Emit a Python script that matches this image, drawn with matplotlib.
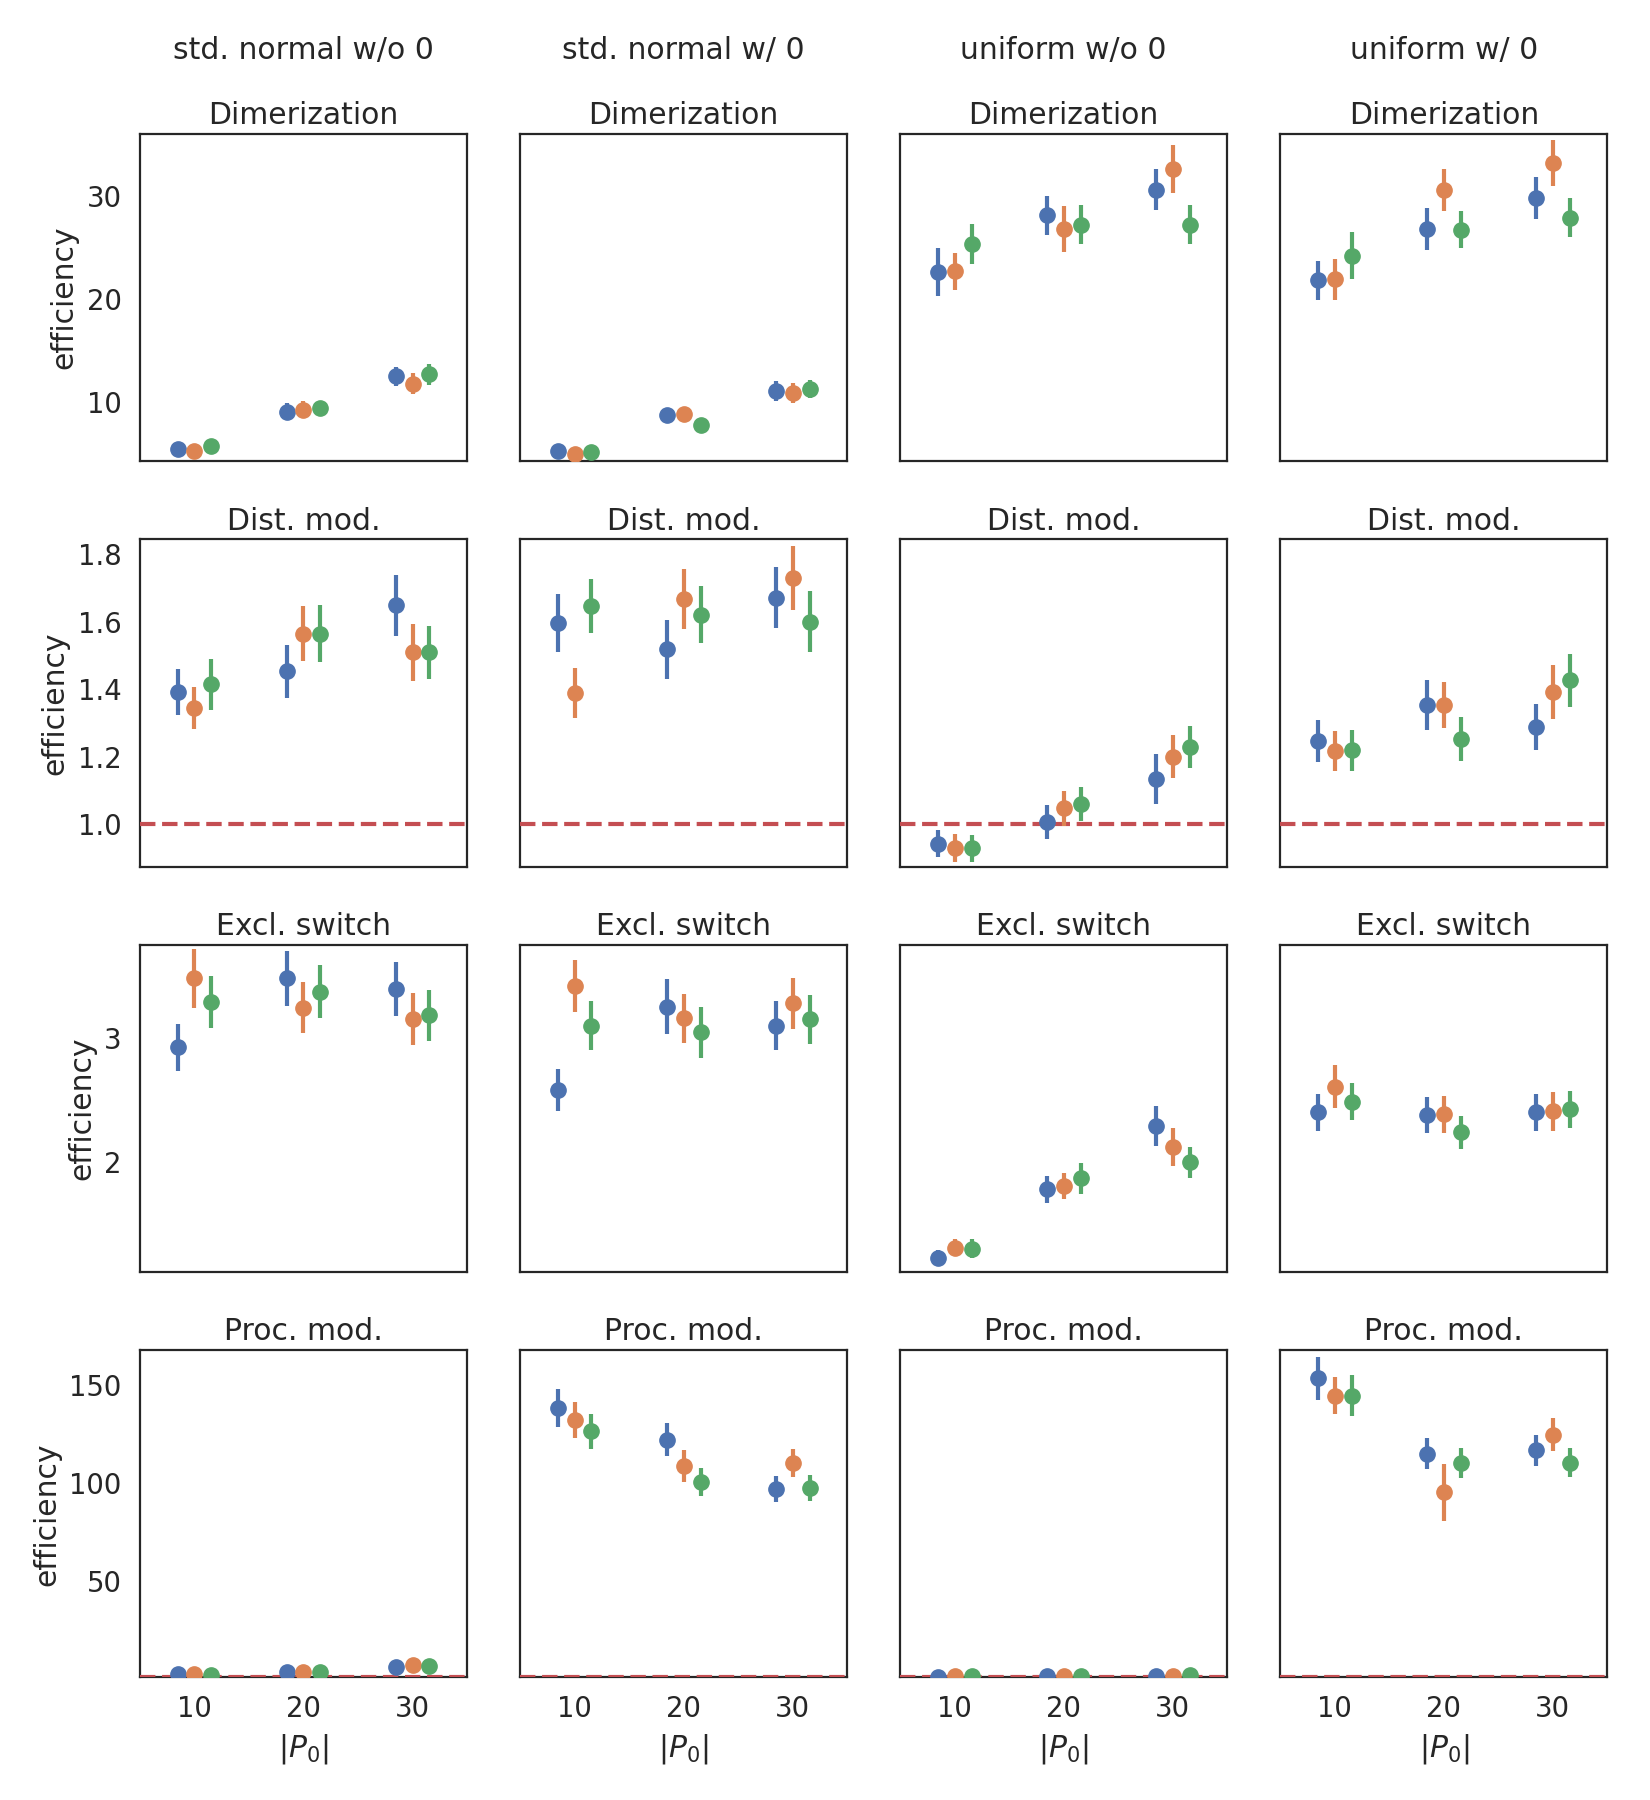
import matplotlib

matplotlib.use("Agg")
import matplotlib.pyplot as plt
import numpy as np

# Column (distribution) and row (experiment) labels
columns = ["std. normal w/o 0", "std. normal w/ 0", "uniform w/o 0", "uniform w/ 0"]
rows = ["Dimerization", "Dist. mod.", "Excl. switch", "Proc. mod."]
p0_levels = ["10", "20", "30"]
hue_colors = ["#4C72B0", "#DD8452", "#55A868"]

# Mean efficiency, indexed [column][hue][p0]
dimer_mean = [
    [[5.5, 9.1, 12.5], [5.3, 9.3, 11.8], [5.8, 9.4, 12.7]],
    [[5.3, 8.8, 11.1], [5.0, 8.9, 10.9], [5.2, 7.8, 11.3]],
    [[22.6, 28.1, 30.6], [22.7, 26.8, 32.6], [25.3, 27.2, 27.2]],
    [[21.8, 26.8, 29.8], [21.9, 30.6, 33.2], [24.2, 26.7, 27.9]],
]
dimer_err = [
    [[0.3, 0.85, 0.9], [0.3, 0.8, 1.0], [0.3, 0.7, 1.0]],
    [[0.3, 0.6, 1.0], [0.3, 0.6, 1.0], [0.3, 0.5, 0.9]],
    [[2.3, 1.9, 2.0], [1.8, 2.25, 2.3], [1.95, 1.9, 1.9]],
    [[1.9, 2.0, 2.0], [2.0, 2.05, 2.25], [2.3, 1.8, 1.9]],
]
dist_mean = [
    [[1.392, 1.453, 1.649], [1.345, 1.565, 1.509], [1.415, 1.565, 1.509]],
    [[1.596, 1.518, 1.671], [1.390, 1.667, 1.729], [1.647, 1.621, 1.600]],
    [[0.943, 1.007, 1.133], [0.931, 1.047, 1.200], [0.929, 1.061, 1.229]],
    [[1.247, 1.354, 1.288], [1.217, 1.353, 1.391], [1.219, 1.252, 1.427]],
]
dist_err = [
    [[0.068, 0.079, 0.090], [0.063, 0.082, 0.085], [0.075, 0.085, 0.078]],
    [[0.086, 0.088, 0.090], [0.074, 0.089, 0.095], [0.080, 0.084, 0.091]],
    [[0.040, 0.051, 0.074], [0.041, 0.051, 0.064], [0.039, 0.051, 0.063]],
    [[0.062, 0.074, 0.068], [0.059, 0.069, 0.080], [0.060, 0.065, 0.078]],
]
excl_mean = [
    [[2.927, 3.484, 3.397], [3.484, 3.249, 3.154], [3.297, 3.378, 3.186]],
    [[2.581, 3.257, 3.103], [3.424, 3.162, 3.284], [3.103, 3.049, 3.154]],
    [[1.224, 1.776, 2.292], [1.305, 1.805, 2.122], [1.297, 1.865, 1.995]],
    [[2.400, 2.376, 2.400], [2.608, 2.384, 2.411], [2.486, 2.238, 2.424]],
]
excl_err = [
    [[0.19, 0.225, 0.22], [0.24, 0.21, 0.21], [0.21, 0.215, 0.205]],
    [[0.17, 0.225, 0.20], [0.21, 0.20, 0.205], [0.195, 0.205, 0.20]],
    [[0.065, 0.11, 0.16], [0.07, 0.108, 0.153], [0.075, 0.125, 0.128]],
    [[0.149, 0.145, 0.149], [0.173, 0.147, 0.158], [0.149, 0.134, 0.15]],
]
proc_mean = [
    [[2.5, 3.3, 6.2], [2.6, 3.6, 7.2], [1.9, 3.4, 6.3]],
    [[138.4, 122.1, 96.8], [132.0, 108.7, 110.2], [126.4, 100.5, 97.6]],
    [[1.1, 1.3, 1.5], [1.2, 1.4, 1.6], [1.2, 1.5, 1.8]],
    [[153.6, 115.0, 116.7], [144.7, 95.4, 124.7], [144.7, 110.4, 110.4]],
]
proc_err = [
    [[0.3, 0.4, 0.6], [0.3, 0.4, 0.7], [0.3, 0.4, 0.6]],
    [[9.8, 8.5, 6.7], [9.2, 8.1, 7.3], [9.1, 7.0, 6.6]],
    [[0.1, 0.1, 0.1], [0.1, 0.1, 0.1], [0.1, 0.1, 0.2]],
    [[10.9, 7.9, 8.0], [9.5, 14.6, 8.5], [10.4, 7.6, 7.5]],
]

row_means = [dimer_mean, dist_mean, excl_mean, proc_mean]
row_errs = [dimer_err, dist_err, excl_err, proc_err]
row_ylims = [(4.3, 36.0), (0.875, 1.844), (1.108, 3.757), (0.7, 167.9)]
row_yticks = [[10, 20, 30], [1.0, 1.2, 1.4, 1.6, 1.8], [2, 3], [50, 100, 150]]
row_baseline = [False, True, False, True]

TEXT = "#262626"
plt.rcParams["font.family"] = ["DejaVu Sans"]
plt.rcParams["text.color"] = TEXT
plt.rcParams["axes.labelcolor"] = TEXT
plt.rcParams["xtick.color"] = TEXT
plt.rcParams["ytick.color"] = TEXT

fig, axes = plt.subplots(4, 4, figsize=(16.5, 18), dpi=100, sharex=True, sharey="row")
fig.subplots_adjust(left=0.0848, right=0.9742, top=0.9256, bottom=0.0681,
                    wspace=0.162, hspace=0.239)

dodge = 0.155
x = np.arange(len(p0_levels))
for r, row_name in enumerate(rows):
    for c in range(len(columns)):
        ax = axes[r, c]
        for h, color in enumerate(hue_colors):
            ax.errorbar(x + (h - 1) * dodge, row_means[r][c][h], yerr=row_errs[r][c][h],
                        fmt="o", color=color, markersize=11, elinewidth=3.0,
                        capsize=0, linestyle="none", zorder=3)
        if row_baseline[r]:
            # above the spines so it stays visible when it sits on the bottom edge
            ax.axhline(1.0, color="#C44E52", linewidth=3.0, linestyle="--", zorder=2.6)
        ax.set_title(row_name, fontsize=21.5, pad=7)
        ax.set_ylim(*row_ylims[r])
        ax.set_yticks(row_yticks[r])
        ax.set_xlim(-0.5, len(p0_levels) - 0.5)
        ax.set_xticks(x)
        ax.set_xticklabels(p0_levels)
        ax.tick_params(length=0, pad=13, labelsize=19.8)
        for spine in ax.spines.values():
            spine.set_color(TEXT)
            spine.set_linewidth(1.6)
        if c == 0:
            ax.set_ylabel("efficiency", fontsize=21.5, labelpad=6)
        if r == len(rows) - 1:
            ax.set_xlabel("$|P_0|$", fontsize=21.5, labelpad=6)

for c, name in enumerate(columns):
    pos = axes[0, c].get_position()
    fig.text((pos.x0 + pos.x1) / 2, 1 - 50 / 1800, name, ha="center", va="center",
             fontsize=21.5)

fig.savefig("out.png", dpi=100)
